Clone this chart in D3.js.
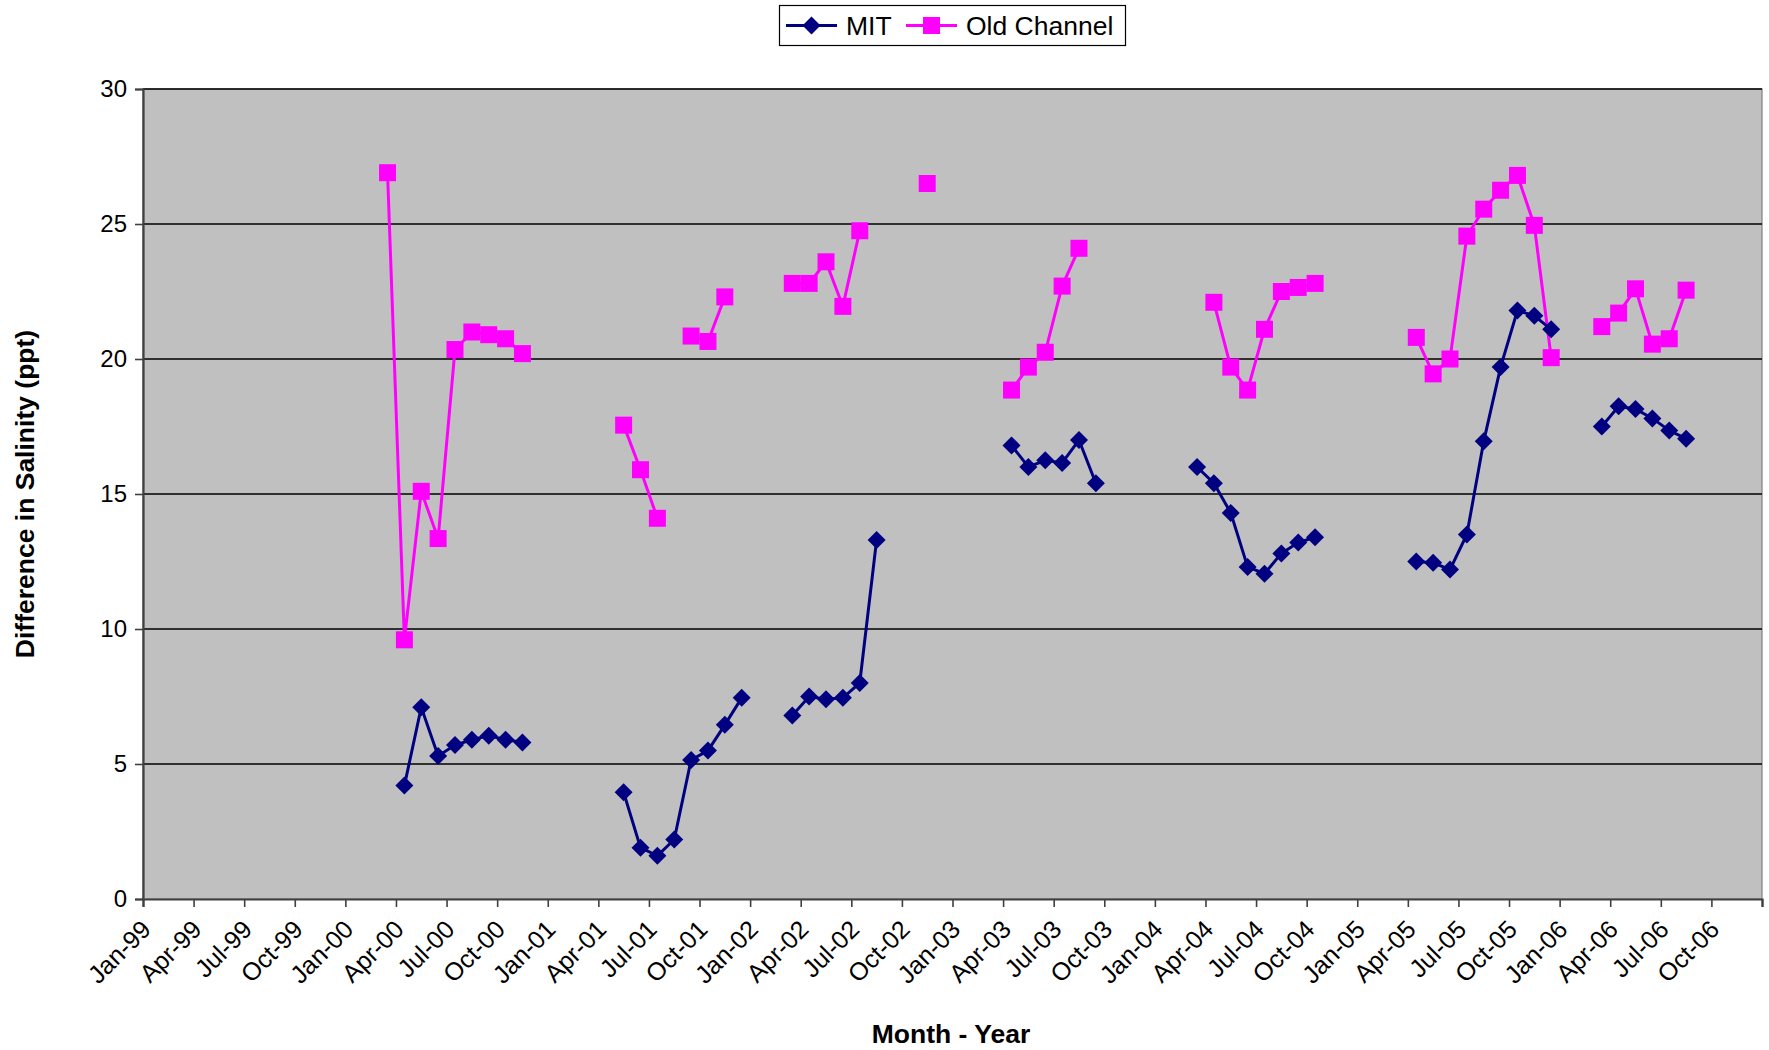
<!DOCTYPE html>
<html><head><meta charset="utf-8">
<script src="https://cdn.jsdelivr.net/npm/d3@7/dist/d3.min.js"></script>
<style>body{margin:0;background:#fff}svg{display:block}text{font-family:"Liberation Sans",Arial,sans-serif}</style>
</head><body>
<svg id="c" width="1769" height="1050"></svg>
<script>
// Month keys (YYYY-MM); null value = gap in the line
const mitMonths = ["2000-04","2000-05","2000-06","2000-07","2000-08","2000-09","2000-10","2000-11","2000-12",
  "2001-05","2001-06","2001-07","2001-08","2001-09","2001-10","2001-11","2001-12","2002-01",
  "2002-03","2002-04","2002-05","2002-06","2002-07","2002-08","2002-09",
  "2003-04","2003-05","2003-06","2003-07","2003-08","2003-09","2003-10",
  "2004-03","2004-04","2004-05","2004-06","2004-07","2004-08","2004-09","2004-10","2004-11",
  "2005-04","2005-05","2005-06","2005-07","2005-08","2005-09","2005-10","2005-11","2005-12","2006-01",
  "2006-03","2006-04","2006-05","2006-06","2006-07","2006-08"];
const mitValues = [4.2,7.1,5.3,5.7,5.9,6.05,5.9,5.8,null,
  3.95,1.9,1.6,2.2,5.15,5.5,6.45,7.45,null,
  6.8,7.5,7.4,7.45,8.0,13.3,null,
  16.8,16.0,16.25,16.15,17.0,15.4,null,
  16.0,15.4,14.3,12.3,12.05,12.8,13.2,13.4,null,
  12.5,12.45,12.2,13.5,16.95,19.7,21.8,21.6,21.1,null,
  17.5,18.25,18.15,17.8,17.35,17.05];

const ocMonths = ["2000-03","2000-04","2000-05","2000-06","2000-07","2000-08","2000-09","2000-10","2000-11","2000-12",
  "2001-05","2001-06","2001-07","2001-08",
  "2001-09","2001-10","2001-11","2001-12",
  "2002-03","2002-04","2002-05","2002-06","2002-07","2002-08",
  "2002-11","2002-12",
  "2003-04","2003-05","2003-06","2003-07","2003-08","2003-09",
  "2004-04","2004-05","2004-06","2004-07","2004-08","2004-09","2004-10","2004-11",
  "2005-04","2005-05","2005-06","2005-07","2005-08","2005-09","2005-10","2005-11","2005-12","2006-01",
  "2006-03","2006-04","2006-05","2006-06","2006-07","2006-08"];
const ocValues = [26.9,9.6,15.1,13.35,20.35,21.0,20.9,20.75,20.2,null,
  17.55,15.9,14.1,null,
  20.85,20.65,22.3,null,
  22.8,22.8,23.6,21.95,24.75,null,
  26.5,null,
  18.85,19.7,20.25,22.7,24.1,null,
  22.1,19.7,18.85,21.1,22.5,22.65,22.8,null,
  20.8,19.45,20.0,24.55,25.55,26.25,26.8,24.95,20.05,null,
  21.2,21.7,22.6,20.55,20.75,22.55];

const xTickLabels = ["Jan-99","Apr-99","Jul-99","Oct-99","Jan-00","Apr-00","Jul-00","Oct-00",
  "Jan-01","Apr-01","Jul-01","Oct-01","Jan-02","Apr-02","Jul-02","Oct-02",
  "Jan-03","Apr-03","Jul-03","Oct-03","Jan-04","Apr-04","Jul-04","Oct-04",
  "Jan-05","Apr-05","Jul-05","Oct-05","Jan-06","Apr-06","Jul-06","Oct-06"];
const yTicks = [0,5,10,15,20,25,30];
const seriesNames = ["MIT","Old Channel"];
const seriesColors = ["#000080","#FF00FF"];

const L=143, R=1762, T=89, B=899;
const svg = d3.select("#c");
const monthIdx = s => { const [y,m]=s.split("-").map(Number); return (y-1999)*12+(m-1); };
const x = d3.scaleLinear().domain([0,96]).range([L,R]);
const y = d3.scaleLinear().domain([0,30]).range([B,T]);

svg.append("rect").attr("x",L).attr("y",T).attr("width",R-L).attr("height",B-T)
  .attr("fill","#C0C0C0").attr("stroke","#808080").attr("stroke-width",1.2);

// gridlines
svg.append("g").selectAll("line").data(yTicks.filter(d=>d>0)).join("line")
  .attr("x1",L).attr("x2",R).attr("y1",d=>y(d)).attr("y2",d=>y(d))
  .attr("stroke","#000").attr("stroke-width",1.4);

// y axis
const ya = svg.append("g").attr("transform",`translate(${L},0)`)
  .call(d3.axisLeft(y).tickValues(yTicks).tickSize(8).tickPadding(8).tickFormat(d3.format("d")));
ya.select(".domain").attr("stroke","#404040").attr("stroke-width",2.2);
ya.selectAll(".tick line").attr("stroke","#404040").attr("stroke-width",1.6);
ya.selectAll("text").attr("font-size",24).attr("fill","#000").attr("font-family","Liberation Sans, Arial, sans-serif");

// x axis
const xTickVals = xTickLabels.map((d,i)=>i*3).concat([96]);
const xa = svg.append("g").attr("transform",`translate(0,${B})`)
  .call(d3.axisBottom(x).tickValues(xTickVals).tickSize(8).tickFormat((d,i)=>xTickLabels[i]||""));
xa.select(".domain").attr("stroke","#404040").attr("stroke-width",2.2);
xa.selectAll(".tick line").attr("stroke","#404040").attr("stroke-width",1.6);
xa.selectAll("text").attr("font-size",25).attr("fill","#000")
  .attr("font-family","Liberation Sans, Arial, sans-serif")
  .attr("text-anchor","end").attr("dy","0.35em")
  .attr("transform","translate(-5,18) rotate(-45)");

// series
const series = [
  {months: mitMonths, values: mitValues, color: seriesColors[0], marker: "diamond"},
  {months: ocMonths, values: ocValues, color: seriesColors[1], marker: "square"}
];
const line = d3.line().defined(d=>d.v!=null).x(d=>x(d.m+0.5)).y(d=>y(d.v));
function drawMarker(g, kind, color){
  if(kind==="square") g.append("rect").attr("x",-8.5).attr("y",-8.5).attr("width",17).attr("height",17).attr("fill",color);
  else g.append("path").attr("d","M0,-9L9,0L0,9L-9,0Z").attr("fill",color);
}
[series[1],series[0]].forEach(s=>{
  const data = s.months.map((m,i)=>({m:monthIdx(m), v:s.values[i]}));
  svg.append("path").datum(data).attr("d",line).attr("fill","none")
    .attr("stroke",s.color).attr("stroke-width",3);
  data.filter(d=>d.v!=null).forEach(d=>{
    const g = svg.append("g").attr("transform",`translate(${x(d.m+0.5)},${y(d.v)})`);
    drawMarker(g, s.marker, s.color);
  });
});

// axis titles
svg.append("text").attr("x",951).attr("y",1043).attr("text-anchor","middle")
  .attr("font-size",26.5).attr("font-weight","bold").text("Month - Year");
svg.append("text").attr("transform","translate(34,494) rotate(-90)").attr("text-anchor","middle")
  .attr("font-size",26.5).attr("font-weight","bold").text("Difference in Salinity (ppt)");

// legend
const lg = svg.append("g");
lg.append("rect").attr("x",779.5).attr("y",5.5).attr("width",346).attr("height",40)
  .attr("fill","#fff").attr("stroke","#000").attr("stroke-width",1.2);
const items = [{x:786, name:seriesNames[0], color:seriesColors[0], marker:"diamond"},
               {x:906, name:seriesNames[1], color:seriesColors[1], marker:"square"}];
items.forEach(it=>{
  lg.append("line").attr("x1",it.x).attr("x2",it.x+51).attr("y1",25.5).attr("y2",25.5)
    .attr("stroke",it.color).attr("stroke-width",3);
  const g = lg.append("g").attr("transform",`translate(${it.x+25.5},25.5)`);
  drawMarker(g, it.marker, it.color);
  lg.append("text").attr("x",it.x+60).attr("y",35).attr("font-size",26.5).text(it.name);
});
</script>
</body></html>
